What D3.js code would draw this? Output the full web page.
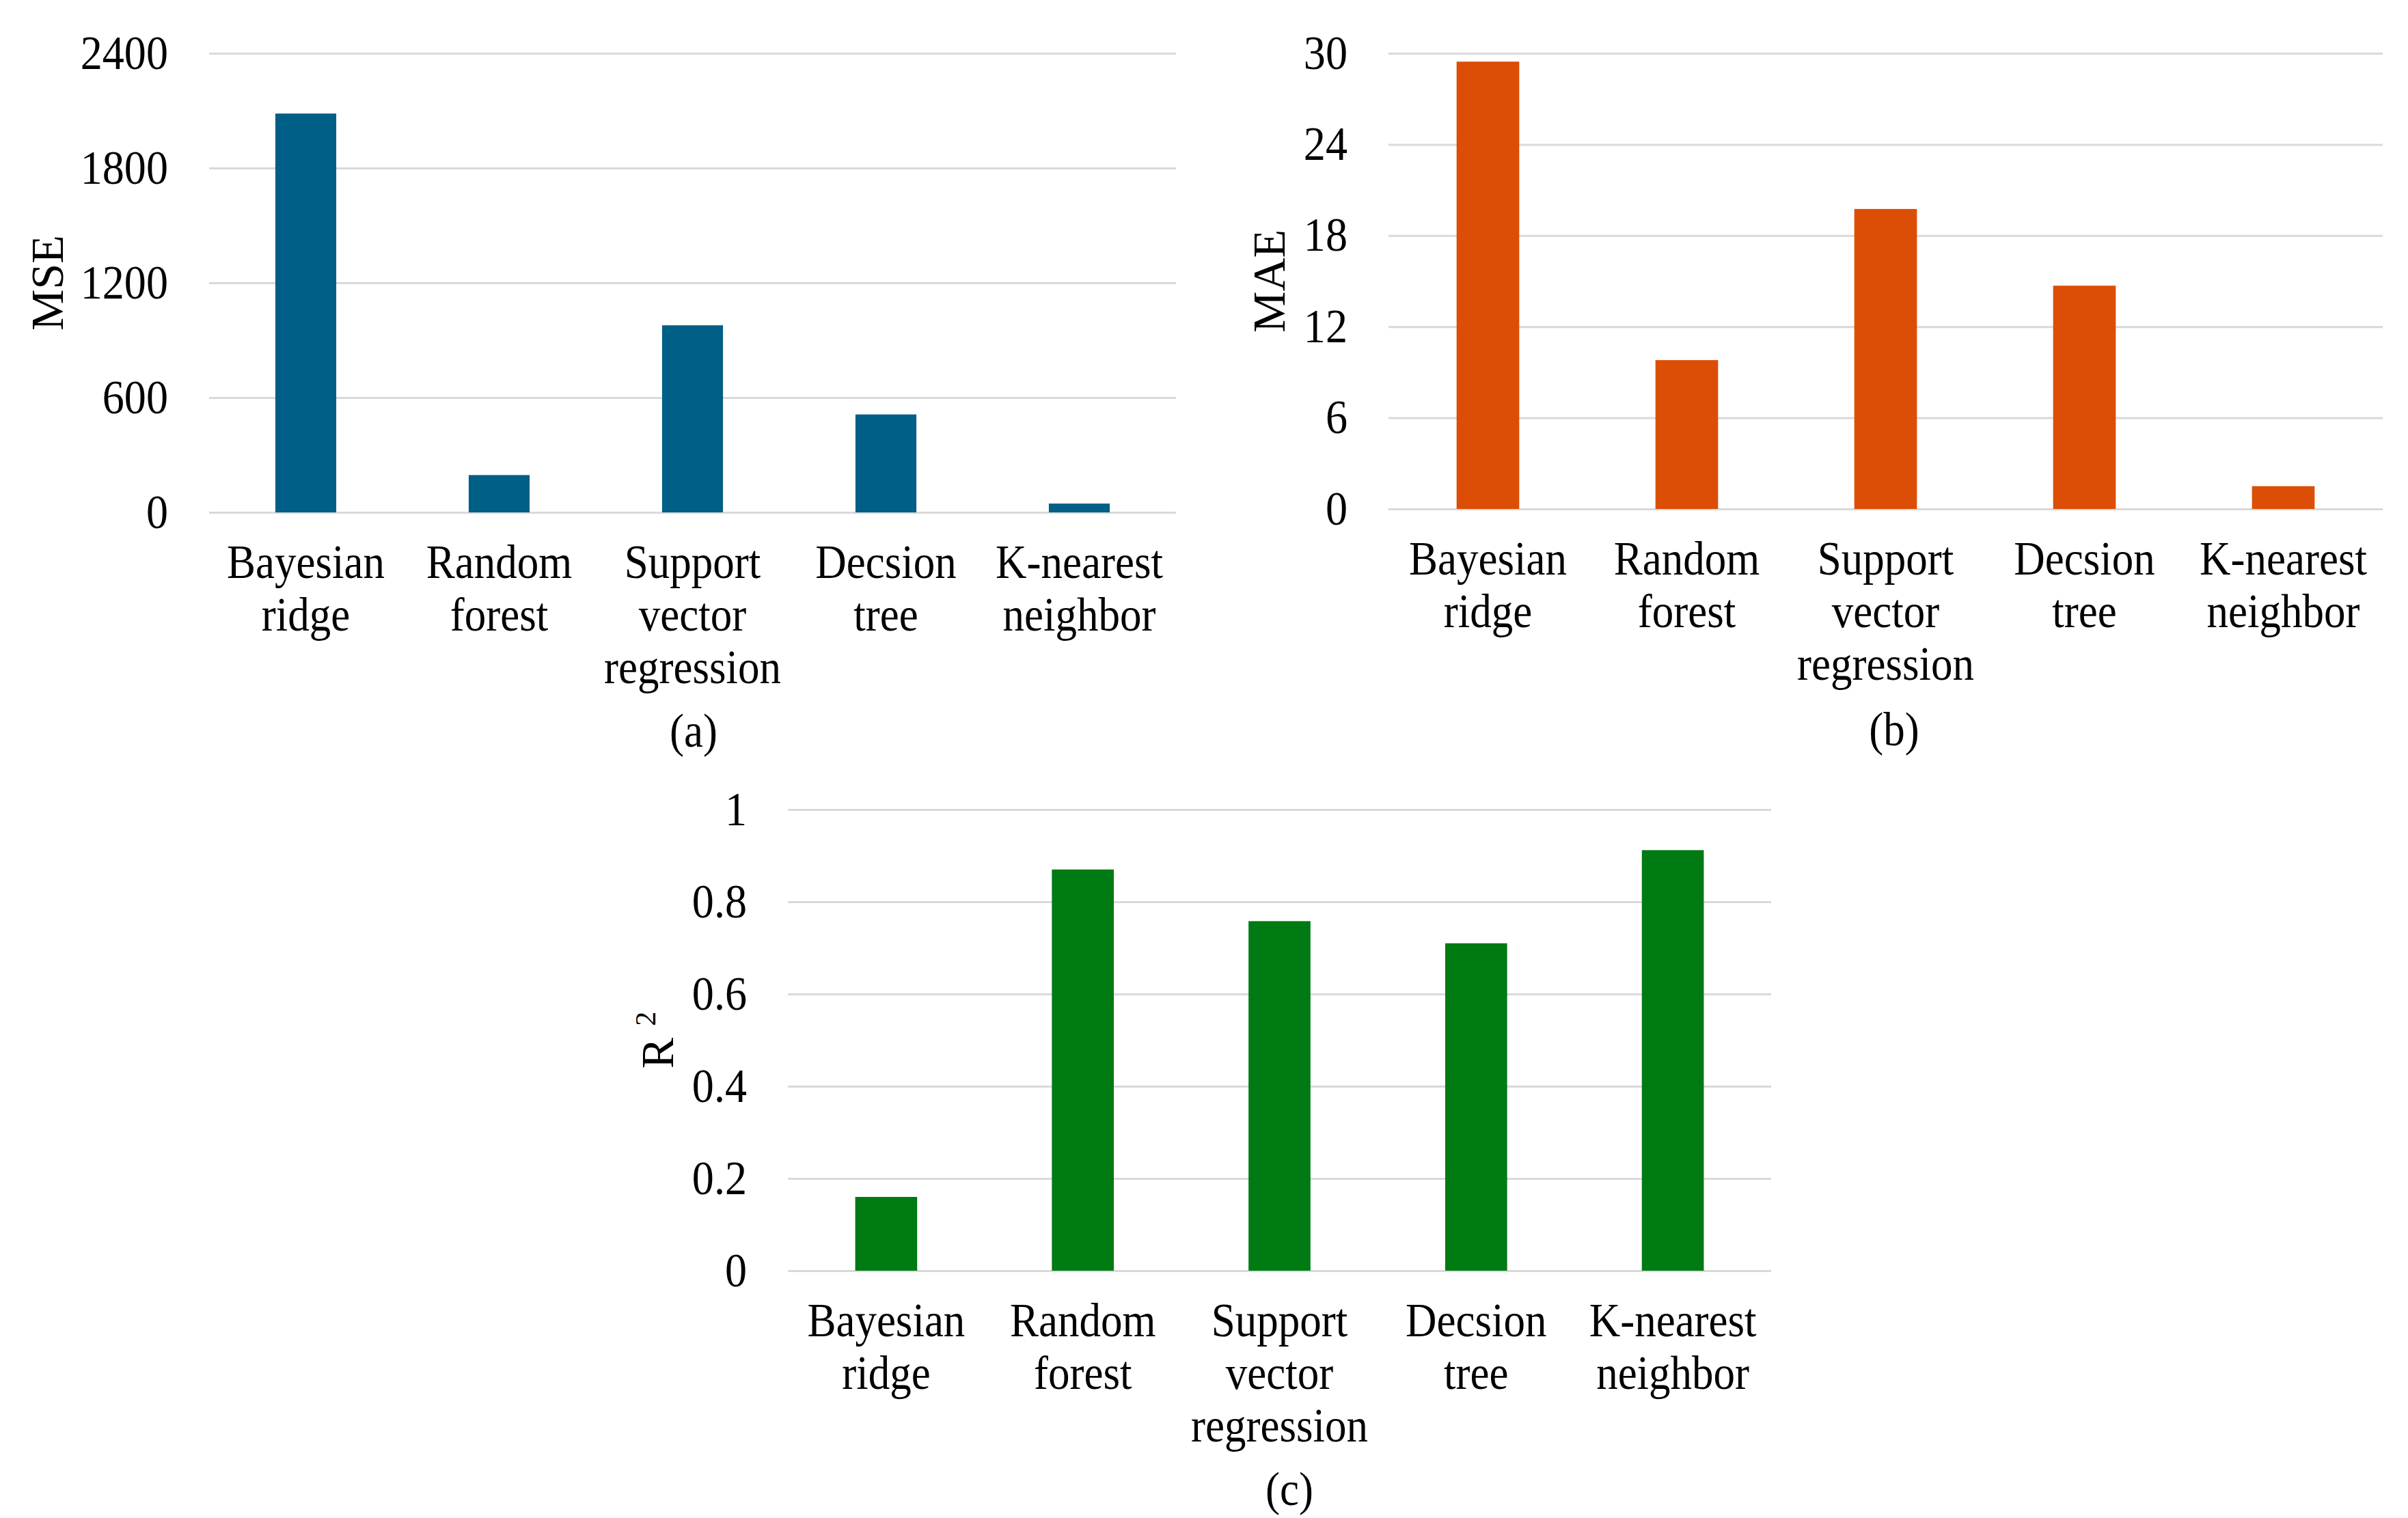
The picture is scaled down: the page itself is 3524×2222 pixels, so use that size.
<!DOCTYPE html>
<meta charset="utf-8">
<script src="https://d3js.org/d3.v7.min.js"></script>
<style>
  body { margin: 0; background: #fff; }
  text { font-family: "Liberation Serif", "Times New Roman", serif; fill: #000; }
  /* the figure's lettering is a little narrower than plain Times */
  .narrow { transform-box: fill-box; transform-origin: center; transform: scaleX(0.9); }
  .narrow-end { transform-box: fill-box; transform-origin: right center; transform: scaleX(0.93); }
</style>
<div id="my_dataviz"></div>

<script>
// data
var models = ["Bayesian ridge", "Random forest", "Support vector regression", "Decsion tree", "K-nearest neighbor"];
var modelLines = [["Bayesian", "ridge"], ["Random", "forest"], ["Support", "vector", "regression"], ["Decsion", "tree"], ["K-nearest", "neighbor"]];
var mseValues = [2085, 195, 978, 512, 46];
var maeValues = [29.45, 9.8, 19.75, 14.7, 1.5];
var r2Values = [0.16, 0.87, 0.758, 0.71, 0.912];
var mseTicks = [0, 600, 1200, 1800, 2400];
var maeTicks = [0, 6, 12, 18, 24, 30];
var r2Ticks = [0, 0.2, 0.4, 0.6, 0.8, 1];

var svg = d3.select("#my_dataviz")
  .append("svg")
    .attr("width", 3524)
    .attr("height", 2222);

// one bar panel
function drawPanel(opt) {
  var width = opt.right - opt.left,
      height = opt.bottom - opt.top;

  var g = svg.append("g")
      .attr("transform", "translate(" + opt.left + "," + opt.top + ")");

  var y = d3.scaleLinear()
    .domain([0, d3.max(opt.ticks)])
    .range([height, 0]);

  // gridlines + tick labels
  var yAxis = g.append("g")
    .call(d3.axisLeft(y).tickValues(opt.ticks).tickSize(-width).tickPadding(60)
      .tickFormat(function(d) { return String(+d.toFixed(2)); }));
  yAxis.select(".domain").remove();
  yAxis.selectAll(".tick line")
    .attr("stroke", "#d9d9d9")
    .attr("stroke-width", 3);
  yAxis.selectAll(".tick text")
    .attr("class", "narrow-end")
    .attr("fill", "#000")
    .style("font-size", "69px")
    .style("font-family", "'Liberation Serif', serif");

  // categories
  var x = d3.scaleBand()
    .domain(models)
    .range([0, width])
    .paddingInner(0.685)
    .paddingOuter(0.685 / 2);

  g.selectAll("mybar")
    .data(opt.values)
    .enter()
    .append("rect")
      .attr("x", function(d, i) { return x(models[i]); })
      .attr("y", function(d) { return y(d); })
      .attr("width", x.bandwidth())
      .attr("height", function(d) { return height - y(d); })
      .attr("fill", opt.color);

  // x labels, several lines each
  g.selectAll("xlabel")
    .data(models)
    .enter()
    .each(function(d, i) {
      var cx = x(d) + x.bandwidth() / 2;
      modelLines[i].forEach(function(line, k) {
        g.append("text")
          .attr("class", "narrow")
          .attr("x", cx)
          .attr("y", height + 96 + k * 77)
          .attr("text-anchor", "middle")
          .style("font-size", "70px")
          .text(line);
      });
    });

  // y title
  var title = g.append("text")
      .attr("transform", "translate(" + (opt.titleX - opt.left) + "," + (height / 2) + ")rotate(-90)")
      .attr("text-anchor", "middle")
      .style("font-size", "68px")
      .text(opt.title);
  if (opt.sup) {
    title.append("tspan").text(" ");
    title.append("tspan")
      .attr("dy", -26)
      .style("font-size", "42px")
      .text(opt.sup);
  }

  // caption under the panel
  svg.append("text")
      .attr("class", "narrow")
      .attr("x", opt.captionX)
      .attr("y", opt.captionY)
      .attr("text-anchor", "middle")
      .style("font-size", "70px")
      .text(opt.caption);
}

drawPanel({ left: 306, right: 1721, top: 78, bottom: 750, values: mseValues, ticks: mseTicks,
  color: "#005f86", title: "MSE", titleX: 92, caption: "(a)", captionX: 1015, captionY: 1093 });

drawPanel({ left: 2032, right: 3487, top: 78, bottom: 745, values: maeValues, ticks: maeTicks,
  color: "#dc4e05", title: "MAE", titleX: 1880, caption: "(b)", captionX: 2772, captionY: 1091 });

drawPanel({ left: 1153, right: 2592, top: 1185, bottom: 1860, values: r2Values, ticks: r2Ticks,
  color: "#007a12", title: "R", sup: "2", titleX: 985, caption: "(c)", captionX: 1887, captionY: 2203 });
</script>
